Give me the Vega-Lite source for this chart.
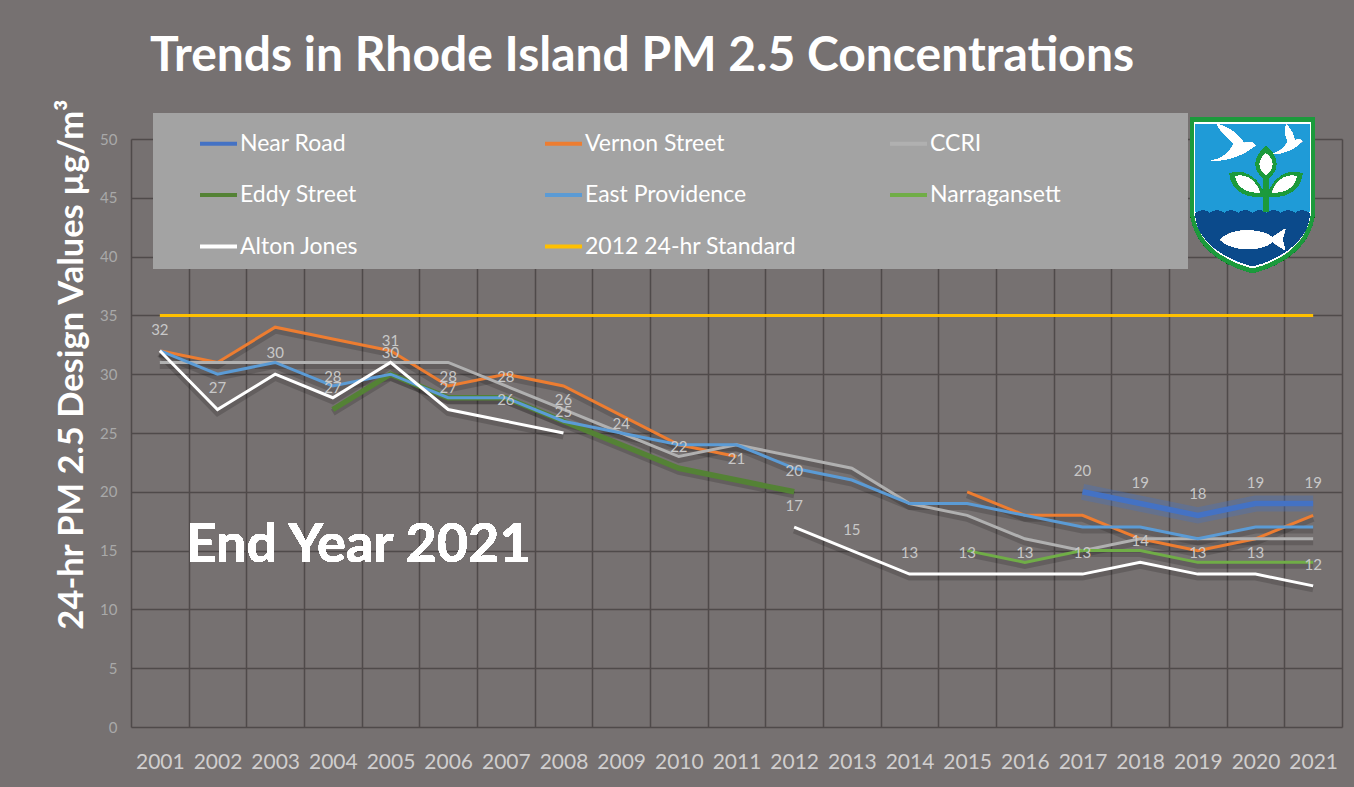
{
  "$schema": "https://vega.github.io/schema/vega-lite/v6.json",
  "width": 1211,
  "height": 588,
  "autosize": {"type": "none"},
  "padding": {"left": 131, "top": 139, "right": 12, "bottom": 60},
  "background": "#767171",
  "title": {"text": "Trends in Rhode Island PM 2.5 Concentrations", "anchor": "start", "dx": 96, "dy": 51, "offset": 30, "fontSize": 48, "font": "Lato", "fontWeight": "bold", "color": "white", "baseline": "alphabetic"},
  "config": {
    "view": {"stroke": null},
    "font": "Lato",
    "axis": {"grid": true, "gridColor": "#4f4a4a", "gridWidth": 1.5, "domain": false, "ticks": false, "tickSize": 0}
  },
  "datasets": {
    "pm": [
      {"series": "Near Road", "seg": "a", "year": "2017", "value": 20},
      {"series": "Near Road", "seg": "a", "year": "2018", "value": 19},
      {"series": "Near Road", "seg": "a", "year": "2019", "value": 18},
      {"series": "Near Road", "seg": "a", "year": "2020", "value": 19},
      {"series": "Near Road", "seg": "a", "year": "2021", "value": 19},
      {"series": "Vernon Street", "seg": "a", "year": "2001", "value": 32},
      {"series": "Vernon Street", "seg": "a", "year": "2002", "value": 31},
      {"series": "Vernon Street", "seg": "a", "year": "2003", "value": 34},
      {"series": "Vernon Street", "seg": "a", "year": "2004", "value": 33},
      {"series": "Vernon Street", "seg": "a", "year": "2005", "value": 32},
      {"series": "Vernon Street", "seg": "a", "year": "2006", "value": 29},
      {"series": "Vernon Street", "seg": "a", "year": "2007", "value": 30},
      {"series": "Vernon Street", "seg": "a", "year": "2008", "value": 29},
      {"series": "Vernon Street", "seg": "a", "year": "2009", "value": 26.5},
      {"series": "Vernon Street", "seg": "a", "year": "2010", "value": 24},
      {"series": "Vernon Street", "seg": "a", "year": "2011", "value": 23},
      {"series": "Vernon Street", "seg": "b", "year": "2015", "value": 20},
      {"series": "Vernon Street", "seg": "b", "year": "2016", "value": 18},
      {"series": "Vernon Street", "seg": "b", "year": "2017", "value": 18},
      {"series": "Vernon Street", "seg": "b", "year": "2018", "value": 16},
      {"series": "Vernon Street", "seg": "b", "year": "2019", "value": 15},
      {"series": "Vernon Street", "seg": "b", "year": "2020", "value": 16},
      {"series": "Vernon Street", "seg": "b", "year": "2021", "value": 18},
      {"series": "CCRI", "seg": "a", "year": "2001", "value": 31},
      {"series": "CCRI", "seg": "a", "year": "2002", "value": 31},
      {"series": "CCRI", "seg": "a", "year": "2003", "value": 31},
      {"series": "CCRI", "seg": "a", "year": "2004", "value": 31},
      {"series": "CCRI", "seg": "a", "year": "2005", "value": 31},
      {"series": "CCRI", "seg": "a", "year": "2006", "value": 31},
      {"series": "CCRI", "seg": "a", "year": "2007", "value": 29},
      {"series": "CCRI", "seg": "a", "year": "2008", "value": 27},
      {"series": "CCRI", "seg": "a", "year": "2009", "value": 25},
      {"series": "CCRI", "seg": "a", "year": "2010", "value": 23},
      {"series": "CCRI", "seg": "a", "year": "2011", "value": 24},
      {"series": "CCRI", "seg": "a", "year": "2012", "value": 23},
      {"series": "CCRI", "seg": "a", "year": "2013", "value": 22},
      {"series": "CCRI", "seg": "a", "year": "2014", "value": 19},
      {"series": "CCRI", "seg": "a", "year": "2015", "value": 18},
      {"series": "CCRI", "seg": "a", "year": "2016", "value": 16},
      {"series": "CCRI", "seg": "a", "year": "2017", "value": 15},
      {"series": "CCRI", "seg": "a", "year": "2018", "value": 16},
      {"series": "CCRI", "seg": "a", "year": "2019", "value": 16},
      {"series": "CCRI", "seg": "a", "year": "2020", "value": 16},
      {"series": "CCRI", "seg": "a", "year": "2021", "value": 16},
      {"series": "Eddy Street", "seg": "a", "year": "2004", "value": 27},
      {"series": "Eddy Street", "seg": "a", "year": "2005", "value": 30},
      {"series": "Eddy Street", "seg": "a", "year": "2006", "value": 28},
      {"series": "Eddy Street", "seg": "a", "year": "2007", "value": 28},
      {"series": "Eddy Street", "seg": "a", "year": "2008", "value": 26},
      {"series": "Eddy Street", "seg": "a", "year": "2009", "value": 24},
      {"series": "Eddy Street", "seg": "a", "year": "2010", "value": 22},
      {"series": "Eddy Street", "seg": "a", "year": "2011", "value": 21},
      {"series": "Eddy Street", "seg": "a", "year": "2012", "value": 20},
      {"series": "East Providence", "seg": "a", "year": "2001", "value": 32},
      {"series": "East Providence", "seg": "a", "year": "2002", "value": 30},
      {"series": "East Providence", "seg": "a", "year": "2003", "value": 31},
      {"series": "East Providence", "seg": "a", "year": "2004", "value": 29},
      {"series": "East Providence", "seg": "a", "year": "2005", "value": 30},
      {"series": "East Providence", "seg": "a", "year": "2006", "value": 28},
      {"series": "East Providence", "seg": "a", "year": "2007", "value": 28},
      {"series": "East Providence", "seg": "a", "year": "2008", "value": 26},
      {"series": "East Providence", "seg": "a", "year": "2009", "value": 25},
      {"series": "East Providence", "seg": "a", "year": "2010", "value": 24},
      {"series": "East Providence", "seg": "a", "year": "2011", "value": 24},
      {"series": "East Providence", "seg": "a", "year": "2012", "value": 22},
      {"series": "East Providence", "seg": "a", "year": "2013", "value": 21},
      {"series": "East Providence", "seg": "a", "year": "2014", "value": 19},
      {"series": "East Providence", "seg": "a", "year": "2015", "value": 19},
      {"series": "East Providence", "seg": "a", "year": "2016", "value": 18},
      {"series": "East Providence", "seg": "a", "year": "2017", "value": 17},
      {"series": "East Providence", "seg": "a", "year": "2018", "value": 17},
      {"series": "East Providence", "seg": "a", "year": "2019", "value": 16},
      {"series": "East Providence", "seg": "a", "year": "2020", "value": 17},
      {"series": "East Providence", "seg": "a", "year": "2021", "value": 17},
      {"series": "Narragansett", "seg": "a", "year": "2015", "value": 15},
      {"series": "Narragansett", "seg": "a", "year": "2016", "value": 14},
      {"series": "Narragansett", "seg": "a", "year": "2017", "value": 15},
      {"series": "Narragansett", "seg": "a", "year": "2018", "value": 15},
      {"series": "Narragansett", "seg": "a", "year": "2019", "value": 14},
      {"series": "Narragansett", "seg": "a", "year": "2020", "value": 14},
      {"series": "Narragansett", "seg": "a", "year": "2021", "value": 14},
      {"series": "Alton Jones", "seg": "a", "year": "2001", "value": 32},
      {"series": "Alton Jones", "seg": "a", "year": "2002", "value": 27},
      {"series": "Alton Jones", "seg": "a", "year": "2003", "value": 30},
      {"series": "Alton Jones", "seg": "a", "year": "2004", "value": 28},
      {"series": "Alton Jones", "seg": "a", "year": "2005", "value": 31},
      {"series": "Alton Jones", "seg": "a", "year": "2006", "value": 27},
      {"series": "Alton Jones", "seg": "a", "year": "2007", "value": 26},
      {"series": "Alton Jones", "seg": "a", "year": "2008", "value": 25},
      {"series": "Alton Jones", "seg": "b", "year": "2012", "value": 17},
      {"series": "Alton Jones", "seg": "b", "year": "2013", "value": 15},
      {"series": "Alton Jones", "seg": "b", "year": "2014", "value": 13},
      {"series": "Alton Jones", "seg": "b", "year": "2015", "value": 13},
      {"series": "Alton Jones", "seg": "b", "year": "2016", "value": 13},
      {"series": "Alton Jones", "seg": "b", "year": "2017", "value": 13},
      {"series": "Alton Jones", "seg": "b", "year": "2018", "value": 14},
      {"series": "Alton Jones", "seg": "b", "year": "2019", "value": 13},
      {"series": "Alton Jones", "seg": "b", "year": "2020", "value": 13},
      {"series": "Alton Jones", "seg": "b", "year": "2021", "value": 12},
      {"series": "2012 24-hr Standard", "seg": "a", "year": "2001", "value": 35},
      {"series": "2012 24-hr Standard", "seg": "a", "year": "2002", "value": 35},
      {"series": "2012 24-hr Standard", "seg": "a", "year": "2003", "value": 35},
      {"series": "2012 24-hr Standard", "seg": "a", "year": "2004", "value": 35},
      {"series": "2012 24-hr Standard", "seg": "a", "year": "2005", "value": 35},
      {"series": "2012 24-hr Standard", "seg": "a", "year": "2006", "value": 35},
      {"series": "2012 24-hr Standard", "seg": "a", "year": "2007", "value": 35},
      {"series": "2012 24-hr Standard", "seg": "a", "year": "2008", "value": 35},
      {"series": "2012 24-hr Standard", "seg": "a", "year": "2009", "value": 35},
      {"series": "2012 24-hr Standard", "seg": "a", "year": "2010", "value": 35},
      {"series": "2012 24-hr Standard", "seg": "a", "year": "2011", "value": 35},
      {"series": "2012 24-hr Standard", "seg": "a", "year": "2012", "value": 35},
      {"series": "2012 24-hr Standard", "seg": "a", "year": "2013", "value": 35},
      {"series": "2012 24-hr Standard", "seg": "a", "year": "2014", "value": 35},
      {"series": "2012 24-hr Standard", "seg": "a", "year": "2015", "value": 35},
      {"series": "2012 24-hr Standard", "seg": "a", "year": "2016", "value": 35},
      {"series": "2012 24-hr Standard", "seg": "a", "year": "2017", "value": 35},
      {"series": "2012 24-hr Standard", "seg": "a", "year": "2018", "value": 35},
      {"series": "2012 24-hr Standard", "seg": "a", "year": "2019", "value": 35},
      {"series": "2012 24-hr Standard", "seg": "a", "year": "2020", "value": 35},
      {"series": "2012 24-hr Standard", "seg": "a", "year": "2021", "value": 35}
    ]
  },
  "data": {"name": "pm"},
  "layer": [
    {
      "transform": [{"filter": "datum.series != '2012 24-hr Standard' && datum.series != 'Near Road'"}],
      "mark": {"type": "line", "color": "#000000", "opacity": 0.16, "strokeWidth": 7, "yOffset": 3},
      "encoding": {
        "x": {"field": "year", "type": "ordinal", "bandPosition": 0.5,
              "scale": {"type": "band", "paddingInner": 0, "paddingOuter": 0, "domain": ["2001","2002","2003","2004","2005","2006","2007","2008","2009","2010","2011","2012","2013","2014","2015","2016","2017","2018","2019","2020","2021"]},
              "axis": {"title": null, "tickBand": "extent", "labelColor": "#d0cece", "labelFontSize": 21, "labelPadding": 24, "labelAngle": 0}},
        "y": {"field": "value", "type": "quantitative",
              "scale": {"domain": [0, 50], "nice": false, "zero": true},
              "axis": {"title": "24-hr PM 2.5 Design Values µg/m³", "values": [0,5,10,15,20,25,30,35,40,45,50], "labelColor": "#a9a9a9", "labelFontSize": 15, "labelPadding": 14, "titleColor": "white", "titleFontSize": 34.5, "titleFontWeight": "bold", "titleX": -49, "titleY": 225, "titleAngle": -90, "titleAlign": "center", "titleBaseline": "alphabetic"}},
        "detail": [{"field": "series"}, {"field": "seg"}]
      }
    },
    {
      "transform": [{"filter": "datum.series == 'Near Road'"}],
      "mark": {"type": "line", "color": "#4472c4", "opacity": 0.35, "strokeWidth": 16},
      "encoding": {
        "x": {"field": "year", "type": "ordinal", "bandPosition": 0.5},
        "y": {"field": "value", "type": "quantitative"},
        "detail": {"field": "seg"}
      }
    },
    {
      "mark": {"type": "line"},
      "encoding": {
        "x": {"field": "year", "type": "ordinal", "bandPosition": 0.5},
        "y": {"field": "value", "type": "quantitative"},
        "color": {"field": "series", "type": "nominal",
                  "scale": {"domain": ["Near Road", "Eddy Street", "Alton Jones", "Vernon Street", "East Providence", "2012 24-hr Standard", "CCRI", "Narragansett"],
                            "range": ["#4472c4", "#548235", "#ffffff", "#ed7d31", "#5b9bd5", "#ffc000", "#b0b0b0", "#70ad47"]},
                  "legend": {"orient": "none", "legendX": 22, "legendY": -26, "columns": 3, "fillColor": "#a3a3a3", "padding": 10, "title": "\u00a0", "titleOrient": "right", "titlePadding": 117, "titleFontSize": 10,
                             "symbolType": "stroke", "symbolSize": 1369, "symbolStrokeWidth": 4, "symbolOffset": 35, "labelOffset": 1,
                             "labelFontSize": 23, "labelColor": "white", "labelFont": "Lato", "gridAlign": "all", "columnPadding": 56, "rowPadding": 18.5, "labelLimit": 400}},
        "strokeWidth": {"condition": {"test": "datum.series == 'Near Road' || datum.series == 'Eddy Street'", "value": 5.5}, "value": 3},
        "detail": {"field": "seg"}
      }
    },
    {
      "transform": [{"filter": "datum.series == 'Alton Jones' || datum.series == 'Eddy Street' || datum.series == 'Near Road'"}],
      "mark": {"type": "text", "dy": -21, "fontSize": 15, "color": "#c8c8c8", "font": "Lato"},
      "encoding": {
        "x": {"field": "year", "type": "ordinal", "bandPosition": 0.5},
        "y": {"field": "value", "type": "quantitative"},
        "text": {"field": "value", "type": "quantitative"}
      }
    },
    {
      "mark": {"type": "text", "text": "End Year 2021", "align": "left", "baseline": "alphabetic", "fontSize": 54, "fontWeight": "bold", "color": "white", "font": "Lato", "xOffset": -3},
      "encoding": {
        "x": {"datum": "2002", "type": "ordinal", "bandPosition": 0},
        "y": {"datum": 14, "type": "quantitative"}
      }
    },
    {
      "mark": {"type": "point", "shape": "M -0.8 -1 L 0.8 -1 L 0.8 0.15 C 0.8 0.6 0.45 0.88 0 1 C -0.45 0.88 -0.8 0.6 -0.8 0.15 Z", "size": 24336, "filled": true, "fill": "#1c9a3c", "strokeWidth": 0, "opacity": 1, "xOffset": -3},
      "encoding": {"x": {"datum": "2020", "type": "ordinal", "bandPosition": 0.5}, "y": {"datum": 45.24, "type": "quantitative"}}
    },
    {
      "mark": {"type": "point", "shape": "M -0.8 -1 L 0.8 -1 L 0.8 0.15 C 0.8 0.6 0.45 0.88 0 1 C -0.45 0.88 -0.8 0.6 -0.8 0.15 Z", "size": 21316, "filled": true, "fill": "#ffffff", "strokeWidth": 0, "opacity": 1, "xOffset": -3},
      "encoding": {"x": {"datum": "2020", "type": "ordinal", "bandPosition": 0.5}, "y": {"datum": 45.24, "type": "quantitative"}}
    },
    {
      "mark": {"type": "point", "shape": "M -0.8 -1 L 0.8 -1 L 0.8 0.15 C 0.8 0.6 0.45 0.88 0 1 C -0.45 0.88 -0.8 0.6 -0.8 0.15 Z", "size": 20164, "filled": true, "fill": "#1f9bd7", "strokeWidth": 0, "opacity": 1, "xOffset": -3},
      "encoding": {"x": {"datum": "2020", "type": "ordinal", "bandPosition": 0.5}, "y": {"datum": 45.24, "type": "quantitative"}}
    },
    {
      "mark": {"type": "point", "shape": "M -0.8 0.26 Q -0.7 0.18 -0.6 0.26 Q -0.5 0.18 -0.4 0.26 Q -0.3 0.18 -0.2 0.26 Q -0.1 0.18 0 0.26 Q 0.1 0.18 0.2 0.26 Q 0.3 0.18 0.4 0.26 Q 0.5 0.18 0.6 0.26 Q 0.7 0.18 0.8 0.26 C 0.8 0.6 0.45 0.88 0 1 C -0.45 0.88 -0.8 0.6 -0.8 0.26 Z", "size": 20164, "filled": true, "fill": "#0b4a8b", "strokeWidth": 0, "opacity": 1, "xOffset": -3},
      "encoding": {"x": {"datum": "2020", "type": "ordinal", "bandPosition": 0.5}, "y": {"datum": 45.24, "type": "quantitative"}}
    },
    {
      "mark": {"type": "point", "shape": "M -0.45 0.63 C -0.3 0.47 0.1 0.46 0.28 0.6 L 0.46 0.48 L 0.42 0.63 L 0.46 0.78 L 0.28 0.66 C 0.1 0.8 -0.3 0.79 -0.45 0.63 Z", "size": 20164, "filled": true, "fill": "#ffffff", "strokeWidth": 0, "opacity": 1, "xOffset": -3},
      "encoding": {"x": {"datum": "2020", "type": "ordinal", "bandPosition": 0.5}, "y": {"datum": 45.24, "type": "quantitative"}}
    },
    {
      "mark": {"type": "point", "shape": "M 0.15 -0.3 L 0.23 -0.3 L 0.23 0.24 L 0.15 0.24 Z M 0.19 -0.68 C 0.36 -0.55 0.4 -0.35 0.19 -0.22 C -0.02 -0.35 0.02 -0.55 0.19 -0.68 Z M -0.32 -0.3 C -0.15 -0.38 0.1 -0.25 0.17 0.02 C -0.1 0.05 -0.3 -0.08 -0.32 -0.3 Z M 0.7 -0.3 C 0.53 -0.38 0.28 -0.25 0.21 0.02 C 0.48 0.05 0.68 -0.08 0.7 -0.3 Z", "size": 20164, "filled": true, "fill": "#1c9a3c", "strokeWidth": 0, "opacity": 1, "xOffset": -3},
      "encoding": {"x": {"datum": "2020", "type": "ordinal", "bandPosition": 0.5}, "y": {"datum": 45.24, "type": "quantitative"}}
    },
    {
      "mark": {"type": "point", "shape": "M 0.19 -0.58 C 0.3 -0.5 0.31 -0.37 0.19 -0.29 C 0.07 -0.37 0.08 -0.5 0.19 -0.58 Z M -0.24 -0.26 C -0.12 -0.3 0.04 -0.22 0.1 -0.04 C -0.08 -0.03 -0.2 -0.1 -0.24 -0.26 Z M 0.62 -0.26 C 0.5 -0.3 0.34 -0.22 0.28 -0.04 C 0.46 -0.03 0.58 -0.1 0.62 -0.26 Z M -0.6 -0.48 C -0.42 -0.5 -0.32 -0.6 -0.26 -0.72 C -0.38 -0.84 -0.48 -0.94 -0.5 -1.0 C -0.3 -0.94 -0.2 -0.85 -0.12 -0.73 C -0.05 -0.76 0.0 -0.74 0.04 -0.7 C -0.1 -0.58 -0.32 -0.48 -0.6 -0.48 Z M 0.28 -0.58 C 0.4 -0.61 0.47 -0.68 0.5 -0.76 C 0.45 -0.86 0.45 -0.93 0.48 -0.99 C 0.56 -0.9 0.59 -0.82 0.59 -0.76 C 0.63 -0.79 0.67 -0.79 0.7 -0.76 C 0.6 -0.65 0.45 -0.58 0.28 -0.58 Z", "size": 20164, "filled": true, "fill": "#ffffff", "strokeWidth": 0, "opacity": 1, "xOffset": -3},
      "encoding": {"x": {"datum": "2020", "type": "ordinal", "bandPosition": 0.5}, "y": {"datum": 45.24, "type": "quantitative"}}
    }
  ]
}
